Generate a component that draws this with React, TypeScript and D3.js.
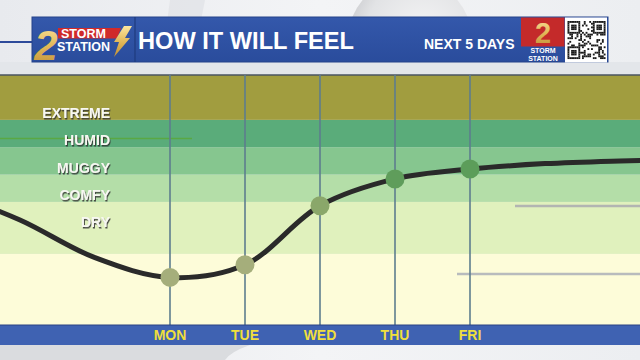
import React from "react";
import * as d3 from "d3";

// ---------- data ----------
const days = ["MON", "TUE", "WED", "THU", "FRI"];
const dayValues = [41.2, 43.5, 54.3, 59.2, 61.0];
// values of the curve before and after the labelled days (day index -3..-1 and 5..7)
const leadIndex = [-3, -2, -1];
const leadValues = [57.0, 51.7, 44.8];
const trailIndex = [5, 6, 7];
const trailValues = [62.0, 62.5, 62.8];

const bandNames = ["", "DRY", "COMFY", "MUGGY", "HUMID", "EXTREME"];
const bandLower = [20, 45.5, 55, 60, 65, 70];
const bandColors = ["#fdfcd9", "#e0f1bd", "#b4dea8", "#86c68f", "#5aac7a", "#a19d3f"];
const pointColors = ["#a5ae7b", "#8aa76a", "#5f9d5b", "#5c9d5a", "#5c9d5a", "#5c9d5a"];
const labelAnchors = [0, 50, 55, 60, 65, 70];

const W = 640;
const H = 360;

export default function App() {
  const top = 75;
  const bottom = 325;
  const y = d3.scaleLinear().domain([32.5, 78.2]).range([bottom, top]);
  const x = d3.scaleLinear().domain([0, 4]).range([170, 470]);

  const allPts: [number, number][] = [
    ...leadIndex.map((d, i) => [d, leadValues[i]] as [number, number]),
    ...dayValues.map((v, i) => [i, v] as [number, number]),
    ...trailIndex.map((d, i) => [d, trailValues[i]] as [number, number]),
  ];
  const line = d3
    .line<[number, number]>()
    .x((d) => x(d[0]))
    .y((d) => y(d[1]))
    .curve(d3.curveCatmullRom.alpha(0.5));

  const bandTops = bandLower.map((_, i) => (i + 1 < bandLower.length ? y(bandLower[i + 1]) : top));
  const bandOf = (v: number) => {
    let b = 0;
    bandLower.forEach((t, i) => {
      if (v >= t) b = i;
    });
    return b;
  };

  // decorative QR-like pattern
  const qrN = 21;
  const qrCells: { r: number; c: number }[] = [];
  const finder = (r: number, c: number) =>
    (r < 7 && c < 7) || (r < 7 && c >= qrN - 7) || (r >= qrN - 7 && c < 7);
  for (let r = 0; r < qrN; r++)
    for (let c = 0; c < qrN; c++) {
      if (finder(r, c)) {
        const rr = r >= qrN - 7 ? r - (qrN - 7) : r;
        const cc = c >= qrN - 7 ? c - (qrN - 7) : c;
        const ring = Math.min(rr, cc, 6 - rr, 6 - cc);
        if (ring !== 1) qrCells.push({ r, c });
      } else if (((r * 7 + c * 13) ^ (r * c)) % 3 === 0) qrCells.push({ r, c });
    }
  const qx = 567.5,
    qy = 21,
    qs = 38 / qrN;

  const font = "'Liberation Sans', Arial, sans-serif";

  return (
    <svg
      width={W}
      height={H}
      viewBox={`0 0 ${W} ${H}`}
      style={{ position: "absolute", left: 0, top: 0, fontFamily: font }}
    >
      <defs>
        <linearGradient id="bg" x1="0" x2="1" y1="0" y2="0">
          <stop offset="0" stopColor="#e8eaee" />
          <stop offset="0.5" stopColor="#f3f4f6" />
          <stop offset="1" stopColor="#eceef1" />
        </linearGradient>
        <radialGradient id="sphere" cx="0.6" cy="0.45" r="0.6">
          <stop offset="0" stopColor="#f4f4f5" />
          <stop offset="0.75" stopColor="#e2e3e5" />
          <stop offset="1" stopColor="#cfd0d3" />
        </radialGradient>
        <linearGradient id="hdr" x1="0" x2="0" y1="0" y2="1">
          <stop offset="0" stopColor="#3458ab" />
          <stop offset="1" stopColor="#2a4c9c" />
        </linearGradient>
        <linearGradient id="gold" x1="0" x2="0" y1="0" y2="1">
          <stop offset="0" stopColor="#fbe6a0" />
          <stop offset="0.5" stopColor="#e3b95a" />
          <stop offset="1" stopColor="#c08f35" />
        </linearGradient>
        <filter id="shadow" x="-10%" y="-30%" width="130%" height="160%">
          <feDropShadow dx="1" dy="1.5" stdDeviation="0.6" floodColor="#333" floodOpacity="0.85" />
        </filter>
        <clipPath id="plot">
          <rect x={0} y={top} width={W} height={bottom - top} />
        </clipPath>
      </defs>

      {/* background */}
      <rect x={0} y={0} width={W} height={H} fill="url(#bg)" />
      <path d="M170,0 L205,0 L190,75 L160,75 Z" fill="#dfe1e5" opacity={0.7} />
      <circle cx={410} cy={40} r={62} fill="url(#sphere)" />
      <path d="M0,345 L250,345 Q230,352 225,360 L0,360 Z" fill="#dadcdf" />
      <rect x={0} y={62} width={W} height={13} fill="#e3e6ea" />

      {/* header */}
      <line x1={0} x2={33} y1={42} y2={42} stroke="#2d4a9a" strokeWidth={2} />
      <rect x={32} y={17} width={576} height={45} fill="url(#hdr)" stroke="#24428a" strokeWidth={1} />
      <line x1={135} x2={135} y1={17} y2={62} stroke="#1f3b7e" strokeWidth={1.2} />

      {/* left logo */}
      <path d="M58,28 L121,28 L117,38.5 L58,38.5 Z" fill="#d02a2a" />
      <text x={46} y={60} fontSize={42} fontWeight={700} fontStyle="italic" fill="url(#gold)" textAnchor="middle">
        2
      </text>
      <text x={61} y={37.5} fontSize={12.5} fontWeight={700} fill="#ffffff">
        STORM
      </text>
      <text x={57} y={50.5} fontSize={12.5} fontWeight={700} fill="#ffffff">
        STATION
      </text>
      <path d="M124,26 L132,26 L125,38 L130,38 L114,57 L119,42 L114,42 Z" fill="url(#gold)" />

      {/* title */}
      <text x={138} y={48.5} fontSize={23} fontWeight={700} fill="#ffffff" textLength={216} lengthAdjust="spacingAndGlyphs">
        HOW IT WILL FEEL
      </text>
      <text x={424} y={49} fontSize={14} fontWeight={700} fill="#ffffff">
        NEXT 5 DAYS
      </text>

      {/* right logo */}
      <rect x={521} y={17.5} width={43.5} height={29} fill="#c42a2a" />
      <text x={543} y={42.5} fontSize={29} fontWeight={700} fill="url(#gold)" textAnchor="middle">
        2
      </text>
      <text x={543} y={53.4} fontSize={7} fontWeight={700} fill="#ffffff" textAnchor="middle">
        STORM
      </text>
      <text x={543} y={60.8} fontSize={7} fontWeight={700} fill="#ffffff" textAnchor="middle">
        STATION
      </text>
      <rect x={565} y={17.5} width={42} height={45} fill="#ffffff" />
      {qrCells.map((d, i) => (
        <rect key={i} x={qx + d.c * qs} y={qy + d.r * qs} width={qs + 0.05} height={qs + 0.05} fill="#1a1a1a" />
      ))}

      {/* bands */}
      {bandLower.map((v, i) => (
        <rect
          key={i}
          x={0}
          y={bandTops[i]}
          width={W}
          height={(i === 0 ? bottom : y(v)) - bandTops[i]}
          fill={bandColors[i]}
        />
      ))}
      <line x1={0} x2={W} y1={top} y2={top} stroke="#4a5560" strokeWidth={1.5} />

      {/* decorative lines */}
      <line x1={0} x2={192} y1={138.5} y2={138.5} stroke="#5aa83a" strokeWidth={1.5} opacity={0.85} />
      <line x1={515} x2={W} y1={206} y2={206} stroke="#b2b5b2" strokeWidth={2.5} />
      <line x1={457} x2={W} y1={274} y2={274} stroke="#b8bbbd" strokeWidth={2.5} />

      {/* band labels */}
      {bandNames.map((n, i) =>
        n ? (
          <text
            key={n}
            x={110}
            y={y(labelAnchors[i]) - 2}
            fontSize={14}
            fontWeight={700}
            fill="#f7f7f2"
            textAnchor="end"
            filter="url(#shadow)"
          >
            {n}
          </text>
        ) : null
      )}

      {/* day gridlines */}
      {days.map((d, i) => (
        <line key={d} x1={x(i)} x2={x(i)} y1={top} y2={bottom} stroke="#5d7d8e" strokeWidth={1.6} />
      ))}

      {/* curve */}
      <g clipPath="url(#plot)">
        <path d={line(allPts) || ""} fill="none" stroke="#2a2a2a" strokeWidth={5} />
      </g>
      {dayValues.map((v, i) => (
        <circle key={i} cx={x(i)} cy={y(v)} r={9.5} fill={pointColors[bandOf(v)]} />
      ))}

      {/* axis bar */}
      <rect x={0} y={bottom} width={W} height={20} fill="#3f62b2" />
      <line x1={0} x2={W} y1={bottom} y2={bottom} stroke="#2a4283" strokeWidth={1} />
      {days.map((d, i) => (
        <text key={d} x={x(i)} y={340} fontSize={14} fontWeight={700} fill="#f0df3c" textAnchor="middle">
          {d}
        </text>
      ))}
    </svg>
  );
}
